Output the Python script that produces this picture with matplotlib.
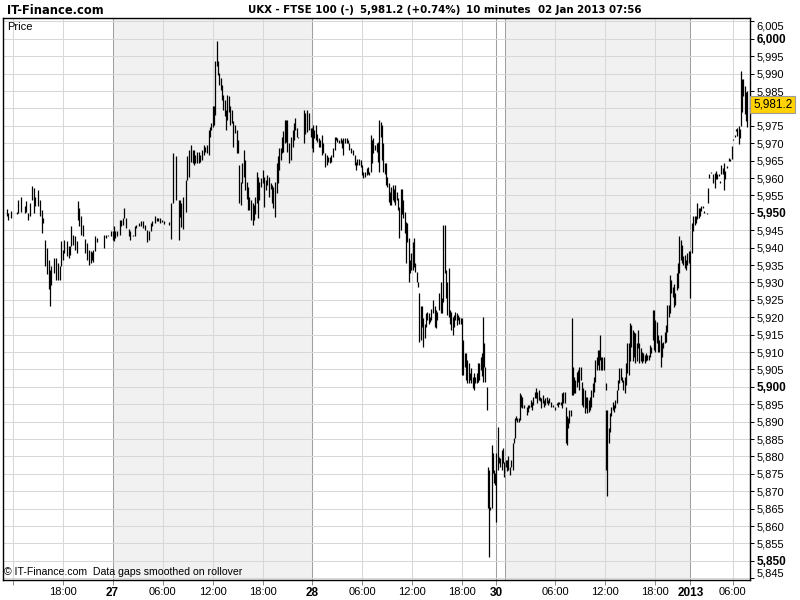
import matplotlib
matplotlib.use('Agg')
import matplotlib.pyplot as plt
from matplotlib import font_manager
import numpy as np

# 10-minute bars: slot position on the trading-time axis, bar high, bar low
t = [
    1.2, 2.2, 4.1, 8.9, 9.6, 11.5, 14.2, 15.1, 16.8, 18.0,
    19.7, 20.9, 21.8, 24.0, 25.2, 26.6, 27.6, 29.0, 30.5, 31.4,
    32.4, 33.4, 35.3, 36.7, 38.2, 39.6, 40.6, 41.5, 42.5, 44.4,
    45.8, 46.8, 47.8, 48.7, 50.2, 51.6, 52.8, 53.5, 55.0, 55.9,
    57.8, 58.8, 60.2, 61.7, 62.6, 63.6, 64.6, 66.0, 71.3, 72.7,
    74.2, 76.1, 77.5, 78.5, 79.4, 80.9, 82.8, 83.8, 84.7, 85.9,
    87.1, 89.0, 90.0, 91.9, 93.4, 94.3, 96.2, 97.7, 99.6, 101.0,
    102.5, 103.4, 104.9, 105.8, 107.8, 109.2, 110.2, 111.6, 113.0, 114.5,
    117.8, 119.8, 121.2, 122.8, 125.0, 126.0, 127.0, 128.4, 130.3, 131.3,
    132.7, 133.7, 135.1, 136.1, 137.0, 138.0, 139.4, 140.4, 141.8, 143.3,
    144.2, 145.7, 146.6, 147.6, 148.6, 149.5, 150.5, 151.4, 152.4, 153.4,
    154.3, 155.3, 156.2, 157.2, 158.2, 159.1, 160.1, 161.0, 162.0, 163.4,
    164.4, 165.4, 166.8, 167.8, 168.7, 169.7, 170.6, 172.1, 173.0, 174.0,
    175.0, 175.9, 177.4, 178.3, 179.3, 180.2, 181.2, 182.2, 183.1, 184.6,
    185.5, 186.5, 187.9, 188.9, 190.3, 191.3, 192.2, 193.2, 194.6, 195.6,
    196.6, 197.5, 198.5, 199.4, 200.4, 201.4, 202.3, 203.3, 204.2, 206.2,
    207.1, 208.1, 209.0, 210.0, 211.0, 215.3, 216.0, 217.2, 218.6, 220.1,
    220.8, 221.5, 222.5, 223.9, 224.9, 225.8, 226.8, 228.2, 229.2, 230.6,
    231.6, 232.6, 234.0, 235.0, 236.4, 237.4, 238.3, 239.3, 240.2, 241.7,
    242.6, 243.6, 245.0, 246.0, 247.0, 247.9, 249.4, 250.3, 251.8, 252.7,
    253.7, 255.1, 256.1, 257.0, 258.0, 259.4, 260.4, 261.4, 262.3, 263.3,
    264.2, 265.2, 266.6, 267.6, 268.6, 269.5, 270.5, 271.4, 272.4, 273.4,
    274.3, 275.3, 276.2, 277.2, 278.2, 279.1, 280.1, 281.0, 282.0, 283.0,
    283.9, 284.9, 285.8, 286.8, 287.8, 288.7, 289.7, 290.6, 291.6, 292.6,
    293.5, 294.5, 295.4, 296.4, 297.4, 298.3, 299.3, 300.2, 301.2, 302.2,
    303.1, 304.1, 305.0, 306.0, 307.0, 308.4, 309.3, 310.3, 311.3, 312.2,
    313.7, 314.4, 315.3, 316.6, 317.5, 318.5, 319.4, 320.4, 321.4, 322.3,
    323.3, 324.2, 325.2, 326.2, 327.1, 328.1, 329.3, 330.0, 331.2, 332.0,
    332.9, 333.8, 334.8, 335.8, 336.7, 337.7, 338.6, 339.6, 340.6, 341.5,
    342.5, 343.4, 344.4, 345.1, 345.8, 346.8, 347.5, 348.2, 348.9, 350.4,
    351.1, 352.1, 353.0, 353.7, 355.2, 355.9, 356.6, 357.6, 358.6, 359.5,
    360.5, 361.4, 362.4, 363.4, 364.3, 365.5, 366.2, 366.9, 367.9, 368.9,
    370.1, 370.8, 371.5, 372.5, 373.7, 375.6, 376.6, 377.5, 378.5, 379.4,
    380.4, 381.4, 382.3, 383.3, 384.2, 385.2, 386.2, 387.1, 388.1, 389.0,
    390.0, 391.0, 391.9, 392.9, 394.3, 396.2, 397.2, 398.1, 399.1, 400.0,
    401.0, 402.0, 402.9, 403.9, 404.6, 405.3, 406.3, 407.3, 408.0, 408.7,
    409.7, 410.6, 411.6, 412.5, 413.5, 414.4, 415.4, 416.4, 417.3, 418.3,
    419.3, 420.2, 421.2, 422.1, 423.1, 424.1, 425.0, 426.0, 427.0, 427.7,
    428.4, 429.1, 430.1, 431.0, 432.5, 433.0, 433.7, 434.6, 435.6, 436.6,
    437.5, 438.5, 439.4, 440.4, 441.4, 442.3, 443.3, 444.2, 445.2, 446.2,
    447.1, 448.1, 449.0, 450.0, 451.0, 451.9, 452.9, 453.8, 454.8, 455.7,
    456.7, 457.7, 458.6, 459.6, 460.6, 461.5, 462.5, 463.4, 464.4, 465.3,
    466.3, 467.3, 468.2, 469.2, 470.2, 471.1, 472.1, 473.1, 474.0, 475.0,
    475.9, 476.9, 477.8, 478.8, 479.8, 480.7, 481.7, 482.6, 483.6, 484.6,
    485.5, 486.5, 487.4, 488.4, 489.4, 490.3, 491.3, 492.2, 493.2, 494.6,
    495.6, 496.6, 497.5, 498.5, 499.4, 500.4, 501.4, 502.3, 503.3, 505.2,
    506.2, 507.1, 508.6, 510.0, 511.0, 512.0, 512.9, 513.8, 514.8, 515.8,
    516.7, 517.7, 518.6, 520.1, 521.0, 522.0, 523.4, 524.4, 525.4, 526.3,
    527.3, 528.2, 529.0, 529.7, 530.6, 531.6, 532.6, 533.5, 534.4,
]
high = [
    5951.1, 5950.0, 5950.4, 5950.2, 5953.8, 5954.6, 5952.1, 5953.3, 5950.0, 5952.8,
    5957.8, 5957.1, 5954.7, 5956.7, 5953.8, 5950.9, 5948.5, 5942.3, 5939.9, 5936.6,
    5933.7, 5934.7, 5937.1, 5937.1, 5935.6, 5934.7, 5941.8, 5939.4, 5942.3, 5941.8,
    5940.4, 5940.4, 5946.3, 5943.7, 5943.3, 5941.8, 5953.5, 5951.4, 5949.0, 5946.6,
    5942.6, 5941.4, 5939.4, 5939.0, 5938.7, 5939.4, 5943.3, 5942.8, 5943.7, 5943.7,
    5943.7, 5944.7, 5944.7, 5946.1, 5944.7, 5944.7, 5948.0, 5948.0, 5948.5, 5951.4,
    5948.5, 5945.4, 5944.7, 5943.7, 5946.1, 5946.6, 5947.1, 5947.6, 5947.6, 5946.6,
    5945.2, 5944.7, 5947.1, 5947.6, 5949.0, 5948.5, 5948.5, 5948.5, 5948.0, 5947.6,
    5947.3, 5952.7, 5967.1, 5966.2, 5953.7, 5953.7, 5952.7, 5954.6, 5959.4, 5966.2,
    5968.1, 5969.5, 5968.1, 5968.1, 5966.6, 5967.6, 5967.6, 5966.6, 5968.1, 5969.5,
    5969.0, 5969.5, 5973.8, 5974.8, 5975.8, 5980.6, 5980.6, 5993.6, 5999.3, 5993.6,
    5990.2, 5988.8, 5986.8, 5983.9, 5982.5, 5979.6, 5983.9, 5983.5, 5980.6, 5979.6,
    5976.3, 5975.3, 5973.8, 5971.0, 5963.8, 5958.9, 5964.2, 5968.1, 5965.2, 5958.9,
    5957.5, 5954.6, 5953.7, 5952.7, 5952.2, 5954.6, 5961.8, 5960.4, 5958.9, 5959.9,
    5962.3, 5960.4, 5959.4, 5960.9, 5960.4, 5958.5, 5958.0, 5957.5, 5958.9, 5964.2,
    5966.2, 5968.6, 5968.6, 5971.9, 5973.4, 5976.7, 5976.7, 5976.7, 5970.0, 5971.9,
    5973.8, 5975.8, 5977.2, 5974.3, 5971.9, 5979.5, 5978.6, 5979.7, 5978.6, 5974.3,
    5974.3, 5975.2, 5973.8, 5975.2, 5972.8, 5971.4, 5970.9, 5972.3, 5970.0, 5967.1,
    5966.6, 5966.1, 5966.1, 5966.6, 5968.5, 5971.9, 5971.9, 5971.4, 5970.9, 5971.4,
    5970.9, 5971.4, 5971.4, 5971.4, 5970.9, 5970.0, 5968.5, 5968.0, 5966.6, 5964.7,
    5965.6, 5965.6, 5965.2, 5963.7, 5961.8, 5961.8, 5962.8, 5963.3, 5961.8, 5972.3,
    5970.9, 5971.4, 5969.5, 5970.0, 5970.4, 5976.7, 5976.2, 5975.2, 5970.0, 5964.2,
    5964.2, 5960.4, 5958.5, 5956.1, 5957.5, 5958.0, 5957.0, 5958.0, 5956.1, 5954.2,
    5951.8, 5957.0, 5957.0, 5953.7, 5950.3, 5947.5, 5947.0, 5942.7, 5936.5, 5938.4,
    5941.7, 5942.7, 5935.5, 5933.1, 5930.2, 5927.1, 5923.1, 5923.1, 5919.7, 5918.2,
    5921.1, 5921.6, 5921.1, 5920.2, 5922.5, 5925.0, 5923.1, 5922.1, 5921.6, 5926.9,
    5930.2, 5925.4, 5946.5, 5946.5, 5933.6, 5930.2, 5934.1, 5922.1, 5921.6, 5920.2,
    5920.7, 5921.6, 5921.1, 5920.7, 5920.2, 5919.7, 5919.7, 5913.5, 5909.6, 5909.6,
    5907.7, 5906.8, 5903.9, 5905.3, 5902.9, 5903.9, 5902.9, 5903.9, 5906.8, 5906.8,
    5908.7, 5909.6, 5920.2, 5912.5, 5905.8, 5900.1, 5877.1, 5876.1, 5865.6, 5883.3,
    5880.9, 5876.1, 5875.2, 5880.9, 5888.6, 5879.9, 5879.5, 5881.9, 5882.3, 5878.5,
    5879.0, 5879.0, 5880.0, 5877.1, 5879.0, 5883.8, 5885.2, 5891.0, 5891.5, 5891.0,
    5891.0, 5898.2, 5897.7, 5897.2, 5894.8, 5894.3, 5894.8, 5894.8, 5896.2, 5895.7,
    5897.2, 5898.6, 5899.6, 5898.6, 5899.1, 5897.2, 5896.7, 5897.7, 5896.2, 5896.7,
    5897.2, 5896.2, 5896.7, 5895.7, 5894.8, 5894.3, 5895.3, 5895.7, 5895.7, 5895.7,
    5898.2, 5898.6, 5898.6, 5894.3, 5891.5, 5891.0, 5893.4, 5893.4, 5919.7, 5905.8,
    5902.9, 5902.0, 5904.4, 5904.9, 5905.8, 5905.8, 5901.5, 5899.6, 5899.1, 5897.2,
    5897.2, 5896.2, 5897.2, 5899.1, 5901.0, 5902.9, 5907.7, 5908.7, 5910.6, 5910.6,
    5914.9, 5908.7, 5908.7, 5908.7, 5901.0, 5893.4, 5893.4, 5888.1, 5892.4, 5894.3,
    5895.7, 5894.8, 5896.2, 5899.1, 5902.0, 5905.3, 5905.3, 5902.9, 5902.0, 5902.9,
    5906.8, 5912.5, 5912.5, 5918.3, 5917.8, 5916.3, 5915.9, 5915.4, 5912.5, 5916.3,
    5912.5, 5911.1, 5910.1, 5909.6, 5909.2, 5909.6, 5909.2, 5909.2, 5912.0, 5911.6,
    5922.1, 5922.1, 5919.2, 5918.7, 5914.9, 5913.5, 5914.9, 5912.5, 5913.0, 5915.9,
    5917.8, 5923.5, 5923.5, 5932.1, 5930.7, 5928.8, 5929.7, 5926.9, 5932.6, 5935.6,
    5943.3, 5942.3, 5940.9, 5937.5, 5938.0, 5936.5, 5938.5, 5939.0, 5939.0, 5947.1,
    5949.0, 5949.0, 5949.0, 5952.9, 5951.4, 5951.4, 5951.9, 5952.1, 5950.5, 5949.9,
    5957.2, 5961.1, 5961.8, 5961.1, 5961.5, 5962.0, 5961.1, 5961.1, 5959.2, 5963.9,
    5962.9, 5964.4, 5962.0, 5963.5, 5965.9, 5965.4, 5969.2, 5971.2, 5972.3, 5974.0,
    5974.5, 5975.0, 5974.0, 5990.9, 5988.5, 5988.5, 5986.5, 5984.6, 5984.9,
]
low = [
    5949.0, 5948.0, 5948.5, 5949.8, 5950.0, 5950.2, 5950.0, 5950.2, 5948.0, 5949.0,
    5953.8, 5950.0, 5951.9, 5952.1, 5949.0, 5944.2, 5947.1, 5934.7, 5932.3, 5928.0,
    5923.2, 5929.4, 5932.8, 5930.8, 5930.8, 5930.8, 5934.7, 5936.6, 5938.5, 5937.5,
    5937.1, 5938.0, 5940.4, 5940.9, 5939.4, 5938.5, 5948.0, 5946.1, 5943.7, 5943.3,
    5938.5, 5936.6, 5935.1, 5935.6, 5936.6, 5935.8, 5939.0, 5941.5, 5939.9, 5942.8,
    5943.3, 5943.3, 5942.3, 5941.8, 5942.8, 5943.3, 5943.7, 5946.1, 5946.6, 5948.5,
    5945.7, 5943.3, 5942.1, 5943.3, 5943.3, 5945.7, 5946.1, 5946.1, 5945.7, 5945.2,
    5941.5, 5942.3, 5944.7, 5946.1, 5947.1, 5947.6, 5947.6, 5947.1, 5947.3, 5946.8,
    5946.6, 5942.6, 5952.7, 5953.7, 5942.1, 5948.8, 5946.0, 5945.5, 5950.3, 5959.4,
    5960.4, 5964.7, 5964.2, 5963.8, 5964.2, 5964.2, 5964.2, 5964.7, 5965.2, 5966.6,
    5967.6, 5967.1, 5966.6, 5971.9, 5973.8, 5974.8, 5975.3, 5978.2, 5992.1, 5989.7,
    5986.8, 5985.4, 5982.5, 5979.6, 5977.7, 5973.8, 5976.7, 5979.1, 5975.3, 5975.8,
    5969.0, 5972.9, 5967.1, 5967.1, 5952.7, 5952.2, 5958.5, 5960.4, 5956.5, 5954.1,
    5950.8, 5950.8, 5947.9, 5946.4, 5947.9, 5949.8, 5952.7, 5948.4, 5953.7, 5957.5,
    5958.5, 5951.7, 5956.5, 5958.0, 5954.6, 5957.0, 5952.7, 5951.3, 5948.7, 5955.6,
    5958.5, 5962.3, 5965.2, 5967.1, 5967.6, 5970.0, 5970.5, 5967.6, 5964.2, 5965.2,
    5969.0, 5971.0, 5973.8, 5971.9, 5971.4, 5970.0, 5972.8, 5973.3, 5973.8, 5971.9,
    5968.5, 5967.6, 5971.4, 5970.9, 5970.4, 5969.0, 5969.0, 5966.6, 5967.1, 5963.3,
    5963.7, 5964.7, 5964.2, 5964.7, 5966.1, 5968.0, 5970.9, 5970.4, 5970.0, 5970.0,
    5968.5, 5966.6, 5970.0, 5970.0, 5970.0, 5968.0, 5967.1, 5966.6, 5963.7, 5962.3,
    5963.7, 5963.7, 5963.3, 5960.9, 5959.9, 5960.4, 5960.9, 5961.3, 5960.9, 5961.8,
    5964.2, 5967.1, 5968.0, 5967.6, 5964.7, 5961.8, 5971.9, 5965.2, 5961.8, 5961.3,
    5958.0, 5957.5, 5953.2, 5952.3, 5952.3, 5953.7, 5953.2, 5952.3, 5953.7, 5950.8,
    5942.7, 5945.1, 5949.8, 5948.4, 5944.1, 5935.5, 5941.7, 5930.2, 5932.6, 5933.6,
    5933.6, 5934.5, 5933.1, 5930.2, 5928.8, 5913.0, 5913.5, 5917.3, 5911.6, 5913.9,
    5917.3, 5919.2, 5918.2, 5918.7, 5919.2, 5921.1, 5917.3, 5916.8, 5919.2, 5922.1,
    5921.1, 5921.1, 5924.5, 5932.6, 5925.4, 5920.7, 5920.2, 5918.2, 5916.4, 5914.9,
    5917.3, 5919.2, 5917.8, 5919.2, 5918.2, 5918.2, 5903.4, 5903.4, 5905.8, 5902.0,
    5901.0, 5901.0, 5902.0, 5901.0, 5899.6, 5899.1, 5901.0, 5901.0, 5901.5, 5902.0,
    5904.9, 5903.0, 5901.5, 5905.8, 5901.5, 5893.4, 5865.1, 5851.0, 5864.7, 5865.1,
    5875.2, 5872.3, 5871.8, 5861.3, 5876.1, 5878.1, 5877.1, 5876.1, 5878.1, 5874.2,
    5877.1, 5875.7, 5876.1, 5874.7, 5877.1, 5876.1, 5883.8, 5885.2, 5890.5, 5890.0,
    5890.0, 5890.5, 5894.3, 5893.9, 5893.9, 5891.9, 5892.9, 5893.9, 5894.3, 5893.4,
    5894.8, 5896.7, 5896.7, 5895.3, 5896.2, 5895.8, 5893.9, 5895.3, 5894.3, 5894.8,
    5895.3, 5894.8, 5895.3, 5894.3, 5894.3, 5893.4, 5894.8, 5894.3, 5895.1, 5894.8,
    5893.9, 5895.3, 5895.3, 5883.8, 5883.3, 5888.1, 5889.6, 5891.5, 5897.7, 5897.7,
    5898.2, 5898.2, 5900.1, 5901.5, 5899.1, 5902.0, 5894.8, 5894.3, 5892.4, 5893.9,
    5892.4, 5892.9, 5893.4, 5894.3, 5897.2, 5898.6, 5901.5, 5904.9, 5906.3, 5904.9,
    5907.7, 5904.9, 5904.9, 5904.9, 5899.1, 5876.1, 5868.5, 5883.8, 5887.1, 5891.5,
    5893.4, 5892.9, 5893.9, 5895.3, 5899.1, 5901.0, 5901.9, 5901.5, 5899.1, 5898.2,
    5900.6, 5903.9, 5903.4, 5907.3, 5911.6, 5907.3, 5908.7, 5906.8, 5907.3, 5911.1,
    5906.8, 5907.3, 5906.8, 5907.3, 5906.8, 5907.3, 5907.7, 5907.7, 5908.7, 5909.6,
    5913.5, 5910.6, 5910.1, 5912.5, 5910.1, 5910.1, 5905.8, 5908.7, 5911.1, 5912.5,
    5913.0, 5915.9, 5920.2, 5921.1, 5926.9, 5925.9, 5923.0, 5923.5, 5927.8, 5928.3,
    5932.6, 5936.5, 5935.6, 5935.1, 5934.1, 5933.7, 5935.1, 5935.6, 5925.5, 5938.5,
    5944.7, 5946.6, 5947.1, 5948.1, 5948.5, 5949.0, 5950.5, 5951.4, 5950.0, 5949.7,
    5952.9, 5960.1, 5961.6, 5958.7, 5957.2, 5959.6, 5959.6, 5960.6, 5958.7, 5961.1,
    5961.1, 5956.7, 5959.6, 5963.0, 5964.9, 5964.9, 5965.4, 5970.8, 5971.9, 5973.6,
    5972.1, 5969.7, 5971.6, 5975.0, 5979.0, 5983.7, 5978.5, 5976.5, 5974.8,
]
assert len(t) == len(high) == len(low)

last_price = 5981.2

# time axis (10-minute slots); sessions are drawn back to back
hour_pos = [5.8, 41.8, 113.5, 149.5, 185.5, 257.2, 293.2, 329.2, 396.2, 432.2, 467.8, 523.9]
hour_labels = ['', '18:00', '06:00', '12:00', '18:00', '06:00', '12:00', '18:00',
               '06:00', '12:00', '18:00', '06:00']
day_pos = [77.5, 221.4, 353.7, 493.4]
day_labels = ['27', '28', '30', '2013']
day_lines = [77.5, 221.4, 353.7, 360.2, 493.4]
shaded_days = [(77.5, 221.4), (360.2, 493.4)]

header = ['UKX - FTSE 100 (-)', '5,981.2 (+0.74%)', '10 minutes', '02 Jan 2013 07:56']
header_x = [248, 360, 466, 538]

plt.rcParams['font.family'] = ['Liberation Sans', 'DejaVu Sans']

# look for a condensed bold face for the title strip
cond = None
for f in font_manager.fontManager.ttflist:
    nm = (f.fname + ' ' + f.name).lower()
    if ('condensed' in nm or 'narrow' in nm or 'condensed' in str(f.stretch)) and \
            f.weight in ('bold', 700, 'semibold', 600) and 'extra' not in nm and 'ultra' not in nm:
        cond = f.fname
        break
if cond:
    head_font = font_manager.FontProperties(fname=cond, size=8.2)
    logo_font = font_manager.FontProperties(fname=cond, size=9.2)
else:
    head_font = font_manager.FontProperties(family='Liberation Sans', weight='bold', size=7.5)
    logo_font = font_manager.FontProperties(family='Liberation Sans', weight='bold', size=8.5)

fig = plt.figure(figsize=(8, 6), dpi=100)
ax = fig.add_axes([3 / 800, 1 - 580 / 600, 747 / 800, 562 / 600])

for a, b in shaded_days:
    ax.axvspan(a, b, color='#f1f1f1', lw=0, zorder=0)
for x in hour_pos:
    ax.axvline(x, color='#d8d8d8', lw=0.75, zorder=1)
for x in day_lines:
    ax.axvline(x, color='#a0a0a0', lw=0.75, zorder=1)

yt = np.arange(5845, 6006, 5)
for y in yt:
    ax.axhline(y, color='#d8d8d8', lw=0.75, zorder=1)

ax.vlines(t, low, high, color='black', lw=0.9, zorder=3)

ax.set_xlim(-1.4, 536.4)
ax.set_ylim(5844.5, 6006.0)

# x axis
xt = hour_pos + day_pos
xl = hour_labels + day_labels
ax.set_xticks(xt)
ax.set_xticklabels(xl, fontsize=8)
for lab, txt in zip(ax.get_xticklabels(), xl):
    if txt in day_labels:
        lab.set_fontweight('bold')
        lab.set_fontsize(8.5)
ax.tick_params(axis='x', direction='out', length=3.5, width=0.7, color='#888888', pad=1.5)

# y axis on the right
ax.yaxis.tick_right()
ax.set_yticks(yt)
ylabs = []
for v in yt:
    ylabs.append('' if v == 5980 else f'{v:,}')
ax.set_yticklabels(ylabs, fontsize=8)
for lab, v in zip(ax.get_yticklabels(), yt):
    if v % 50 == 0:
        lab.set_fontweight('bold')
        lab.set_fontsize(8.5)
    if v == 5845:
        lab.set_va('bottom')
    if v == 6005:
        lab.set_va('top')
ax.tick_params(axis='y', direction='out', length=3, width=0.7, pad=1.5)

for s in ax.spines.values():
    s.set_color('black')
    s.set_linewidth(1.0)

# last price marker
ax.text(1.004, last_price, f'{last_price:,.1f}', transform=ax.get_yaxis_transform(),
        ha='left', va='center', fontsize=8.5, color='black', clip_on=False,
        bbox=dict(boxstyle='square,pad=0.22', fc='#ffd200', ec='#9a9a9a', lw=0.8))

ax.text(0.005, 0.993, 'Price', transform=ax.transAxes, ha='left', va='top', fontsize=8)
ax.text(0.002, 0.006, '\u00a9 IT-Finance.com  Data gaps smoothed on rollover',
        transform=ax.transAxes, ha='left', va='bottom', fontsize=7.6)

# header strip
fig.text(7 / 800, 1 - 10 / 600, 'IT-Finance.com', ha='left', va='center',
         fontproperties=logo_font)
for x, s in zip(header_x, header):
    fig.text(x / 800, 1 - 10 / 600, s, ha='left', va='center', fontproperties=head_font)

fig.savefig('out.png', dpi=100)
